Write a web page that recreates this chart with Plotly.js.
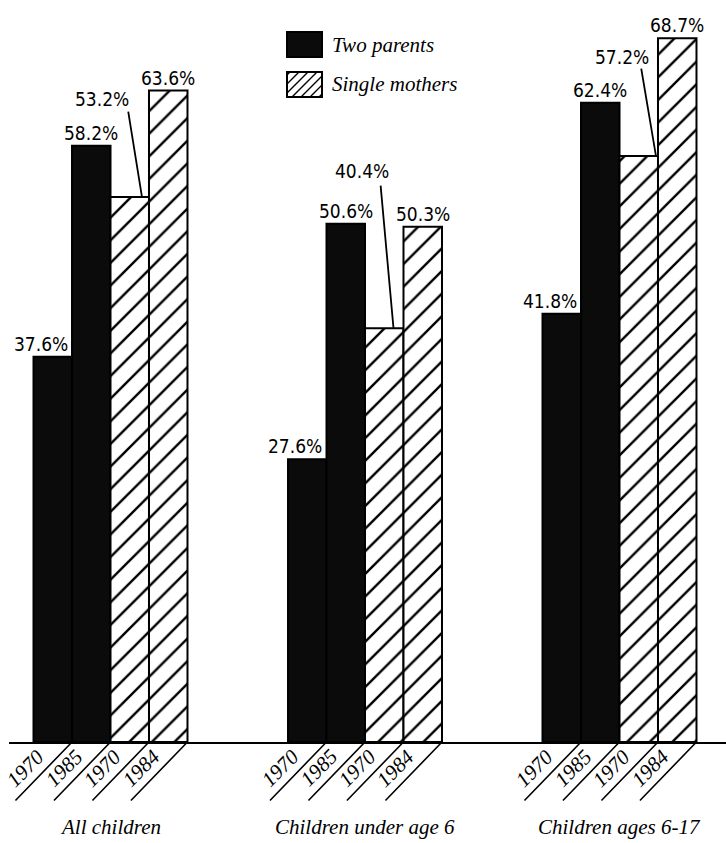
<!DOCTYPE html>
<html>
<head>
<meta charset="utf-8">
<script src="https://cdn.plot.ly/plotly-3.0.1.min.js"></script>
<style>
html,body{margin:0;padding:0;background:#fff;}
#chart{width:726px;height:843px;}
</style>
</head>
<body>
<div id="chart"></div>
<script>
// ---- data ----
var groups = ['All children', 'Children under age 6', 'Children ages 6-17'];
var twoParents1970 = [37.6, 27.6, 41.8];
var twoParents1985 = [58.2, 50.6, 62.4];
var singleMothers1970 = [53.2, 40.4, 57.2];
var singleMothers1984 = [63.6, 50.3, 68.7];
var barYears = ['1970', '1985', '1970', '1984'];
var seriesNames = ['Two parents', 'Two parents', 'Single mothers', 'Single mothers'];

// ---- style / layout config ----
var W = 726, H = 843;
var M = {l: 9, r: 0, t: 25, b: 101};
var BARGAP = 0.395;
var NUMFONT = {family: 'DejaVu Sans Condensed, Liberation Sans Narrow, DejaVu Sans, sans-serif', size: 19, color: '#000'};
var SERIF = 'Liberation Serif, DejaVu Serif, serif';
// label offsets for the leader-line labels (single mothers 1970), per group
var leadText = [[-46.5, 97.7], [-41, 157], [-35.5, 98.8]];
var leadHead = [-7, -10, -2];
var leadTail = [[-14, -87], [-13, -144], [-15, -89]];

var allSeries = [twoParents1970, twoParents1985, singleMothers1970, singleMothers1984];
var blackBar = {color: '#0b0b0b', line: {color: '#000', width: 2}};
var hatchBar = {color: '#fff', line: {color: '#000', width: 2},
  pattern: {shape: '/', fgcolor: '#000', bgcolor: '#fff', size: 16, solidity: 0.15, fillmode: 'replace'}};

var traces = allSeries.map(function (vals, i) {
  return {
    type: 'bar', x: groups, y: vals, name: seriesNames[i] + ' ' + barYears[i],
    marker: i < 2 ? blackBar : hatchBar,
    showlegend: false, hoverinfo: 'x+y+name'
  };
});

var w = 1 - BARGAP, bw = w / 4;
function barCenter(g, i) { return g - w / 2 + (i + 0.5) * bw; }
function barRight(g, i) { return g - w / 2 + (i + 1) * bw; }

var annotations = [];
var shapes = [];
groups.forEach(function (gname, g) {
  allSeries.forEach(function (vals, i) {
    var v = vals[g];
    var txt = v.toFixed(1) + '%';
    if (i === 0) {
      annotations.push({x: barCenter(g, i), y: v, xref: 'x', yref: 'y', text: txt, showarrow: false,
        xanchor: 'center', yanchor: 'bottom', xshift: -12, yshift: 0, font: NUMFONT});
    } else if (i === 2) {
      annotations.push({x: barRight(g, i), y: v, xref: 'x', yref: 'y', text: txt, showarrow: false,
        xanchor: 'center', yanchor: 'middle', xshift: leadText[g][0], yshift: leadText[g][1], font: NUMFONT});
      annotations.push({x: barRight(g, i), y: v, xref: 'x', yref: 'y', text: '', showarrow: true,
        arrowhead: 0, arrowwidth: 1.8, arrowcolor: '#000', standoff: 0, startstandoff: 0,
        xshift: leadHead[g], ax: leadTail[g][0], ay: leadTail[g][1]});
    } else {
      annotations.push({x: barCenter(g, i), y: v, xref: 'x', yref: 'y', text: txt, showarrow: false,
        xanchor: 'center', yanchor: 'bottom', yshift: 0, font: NUMFONT});
    }
    annotations.push({x: barCenter(g, i), y: 0, xref: 'x', yref: 'y', text: barYears[i], showarrow: false,
      textangle: -45, xanchor: 'center', yanchor: 'middle', xshift: -27, yshift: -26,
      font: {family: SERIF, size: 21, color: '#000', style: 'italic'}});
    annotations.push({x: barRight(g, i), y: 0, xref: 'x', yref: 'y', text: '', showarrow: true,
      arrowhead: 0, arrowwidth: 1.6, arrowcolor: '#000', standoff: 0, startstandoff: 0,
      ax: -58, ay: 60});
  });
  annotations.push({x: g, y: 0, xref: 'x', yref: 'y', text: gname, showarrow: false,
    xanchor: 'center', yanchor: 'middle', yshift: -85,
    font: {family: SERIF, size: 21, color: '#000', style: 'italic'}});
});

// ---- manual legend (swatches drawn as shapes in paper coordinates) ----
var PW = W - M.l - M.r, PH = H - M.t - M.b;
function px2x(px) { return (px - M.l) / PW; }
function py2y(py) { return (H - M.b - py) / PH; }
var legX0 = 287, legW = 35, legH = 25;
var legRows = [{top: 32, label: 'Two parents', hatch: false}, {top: 72, label: 'Single mothers', hatch: true}];
legRows.forEach(function (r) {
  shapes.push({type: 'rect', xref: 'paper', yref: 'paper',
    x0: px2x(legX0), x1: px2x(legX0 + legW), y0: py2y(r.top + legH), y1: py2y(r.top),
    fillcolor: r.hatch ? '#fff' : '#0b0b0b', line: {color: '#000', width: 2}});
  if (r.hatch) {
    var path = '';
    var s = 9;
    for (var c = -legH + 3; c < legW; c += s) {
      var u0 = Math.max(0, c), u1 = Math.min(legW, legH + c);
      if (u1 <= u0) continue;
      var xa = legX0 + u0, ya = r.top + legH - (u0 - c);
      var xb = legX0 + u1, yb = r.top + legH - (u1 - c);
      path += 'M' + px2x(xa) + ',' + py2y(ya) + ' L' + px2x(xb) + ',' + py2y(yb) + ' ';
    }
    shapes.push({type: 'path', xref: 'paper', yref: 'paper', path: path, line: {color: '#000', width: 1.4}});
  }
  annotations.push({xref: 'paper', yref: 'paper', x: px2x(legX0 + legW + 8), y: py2y(r.top + legH / 2),
    text: r.label, showarrow: false, xanchor: 'left', yanchor: 'middle',
    font: {family: SERIF, size: 21, color: '#000', style: 'italic'}});
});

var layout = {
  width: W, height: H, margin: M,
  paper_bgcolor: '#fff', plot_bgcolor: '#fff',
  barmode: 'group', bargap: BARGAP, bargroupgap: 0,
  showlegend: false,
  xaxis: {type: 'category', range: [-(110.5 - M.l) / 254.5, -(110.5 - M.l) / 254.5 + PW / 254.5],
    showline: true, linecolor: '#000', linewidth: 2, showticklabels: false, ticks: '',
    showgrid: false, zeroline: false, fixedrange: true},
  yaxis: {range: [0, 70], visible: false, showgrid: false, zeroline: false, fixedrange: true},
  annotations: annotations, shapes: shapes
};

Plotly.newPlot('chart', traces, layout, {displayModeBar: false, staticPlot: true});
</script>
</body>
</html>
